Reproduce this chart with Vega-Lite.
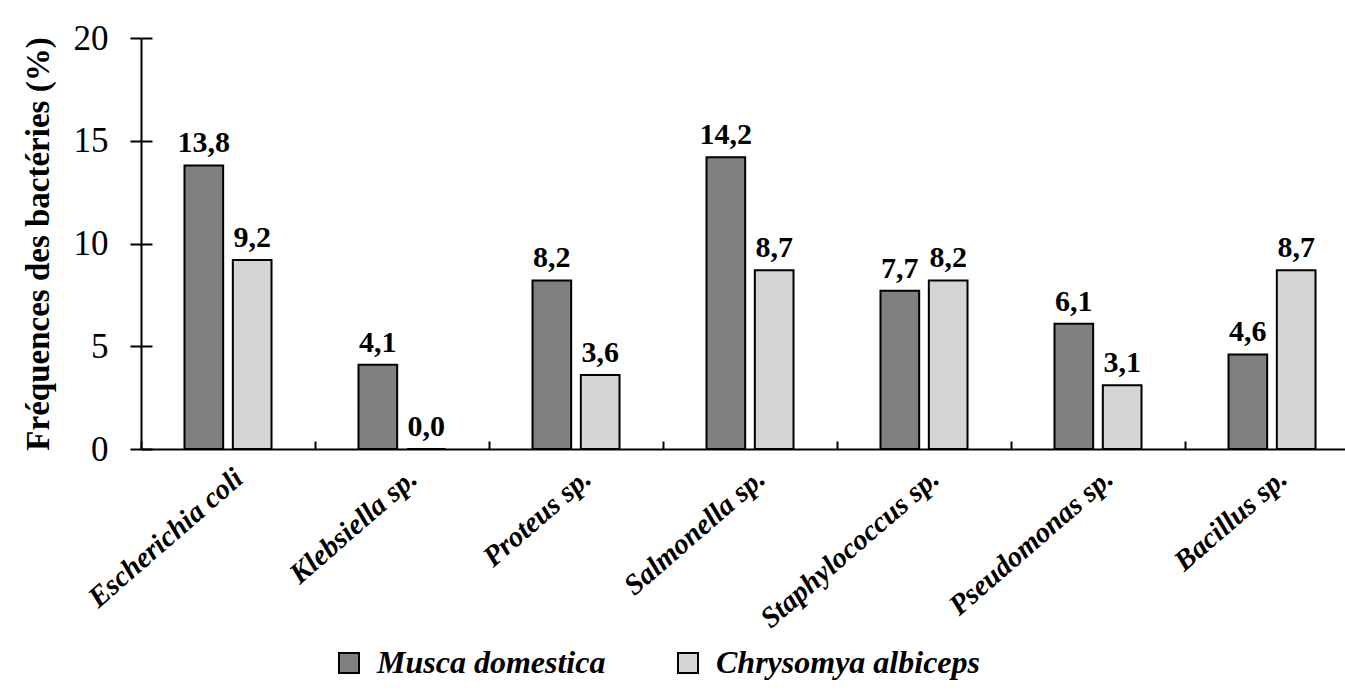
{
  "$schema": "https://vega.github.io/schema/vega-lite/v6.json",
  "width": 1218,
  "height": 411,
  "autosize": {"type": "none"},
  "padding": {"left": 141, "top": 38, "right": 0, "bottom": 241},
  "background": "white",
  "config": {
    "locale": {"number": {"decimal": ",", "thousands": " ", "grouping": [3], "currency": ["", " €"]}},
    "view": {"stroke": null},
    "font": "Liberation Serif"
  },
  "data": {
    "values": [
      {"bacterie": "Escherichia coli", "espece": "Musca domestica", "frequence": 13.8},
      {"bacterie": "Escherichia coli", "espece": "Chrysomya albiceps", "frequence": 9.2},
      {"bacterie": "Klebsiella sp.", "espece": "Musca domestica", "frequence": 4.1},
      {"bacterie": "Klebsiella sp.", "espece": "Chrysomya albiceps", "frequence": 0.0},
      {"bacterie": "Proteus sp.", "espece": "Musca domestica", "frequence": 8.2},
      {"bacterie": "Proteus sp.", "espece": "Chrysomya albiceps", "frequence": 3.6},
      {"bacterie": "Salmonella sp.", "espece": "Musca domestica", "frequence": 14.2},
      {"bacterie": "Salmonella sp.", "espece": "Chrysomya albiceps", "frequence": 8.7},
      {"bacterie": "Staphylococcus sp.", "espece": "Musca domestica", "frequence": 7.7},
      {"bacterie": "Staphylococcus sp.", "espece": "Chrysomya albiceps", "frequence": 8.2},
      {"bacterie": "Pseudomonas sp.", "espece": "Musca domestica", "frequence": 6.1},
      {"bacterie": "Pseudomonas sp.", "espece": "Chrysomya albiceps", "frequence": 3.1},
      {"bacterie": "Bacillus sp.", "espece": "Musca domestica", "frequence": 4.6},
      {"bacterie": "Bacillus sp.", "espece": "Chrysomya albiceps", "frequence": 8.7}
    ]
  },
  "layer": [
    {
      "mark": {"type": "bar", "stroke": "black", "strokeWidth": 2},
      "encoding": {
        "x": {
          "field": "bacterie", "type": "nominal", "sort": null,
          "scale": {"paddingInner": 0, "paddingOuter": 0},
          "axis": {
            "orient": "bottom", "title": null, "ticks": false,
            "domainColor": "black", "domainWidth": 2,
            "labelAngle": -41, "labelAlign": "right", "labelBaseline": "middle",
            "labelFont": "Liberation Serif", "labelFontSize": 29, "labelFontStyle": "italic", "labelFontWeight": "bold",
            "labelColor": "black", "labelPadding": 25, "labelOffset": 11, "labelLimit": 400
          }
        },
        "xOffset": {
          "field": "espece", "type": "nominal", "sort": ["Musca domestica", "Chrysomya albiceps"],
          "scale": {"paddingInner": 0.2, "paddingOuter": 0.9}
        },
        "y": {
          "field": "frequence", "type": "quantitative",
          "scale": {"domain": [0, 20]},
          "axis": {
            "orient": "left", "values": [0, 5, 10, 15, 20], "grid": false,
            "tickSize": 11, "tickWidth": 2, "tickColor": "black",
            "domainColor": "black", "domainWidth": 2,
            "labelFont": "Liberation Serif", "labelFontSize": 35, "labelColor": "black", "labelPadding": 22,
            "title": "Fréquences des bactéries (%)",
            "titleFont": "Liberation Serif", "titleFontSize": 33, "titleFontWeight": "bold", "titleColor": "black",
            "titlePadding": 18
          }
        },
        "color": {
          "field": "espece", "type": "nominal",
          "sort": ["Musca domestica", "Chrysomya albiceps"],
          "scale": {"domain": ["Musca domestica", "Chrysomya albiceps"], "range": ["#808080", "#d4d4d4"]},
          "legend": {
            "orient": "none", "legendX": 192, "legendY": 609, "direction": "horizontal",
            "title": null, "symbolType": "square", "symbolSize": 400,
            "symbolStrokeColor": "black", "symbolStrokeWidth": 2,
            "labelFont": "Liberation Serif", "labelFontSize": 32, "labelFontStyle": "italic", "labelFontWeight": "bold",
            "labelColor": "black", "labelOffset": 12, "columnPadding": 66, "padding": 0, "labelLimit": 500
          }
        }
      }
    },
    {
      "mark": {"type": "text", "font": "Liberation Serif", "fontSize": 30, "fontWeight": "bold", "color": "black", "baseline": "alphabetic", "dy": -13},
      "encoding": {
        "x": {
          "field": "bacterie", "type": "nominal", "sort": null,
          "axis": {
            "orient": "bottom", "title": null, "labels": false, "domain": false,
            "bandPosition": 0, "offset": -8, "tickSize": 8, "tickWidth": 2, "tickColor": "black"
          }
        },
        "xOffset": {"field": "espece", "type": "nominal", "sort": ["Musca domestica", "Chrysomya albiceps"]},
        "y": {
          "field": "frequence", "type": "quantitative",
          "axis": {
            "orient": "left", "values": [0, 5, 10, 15, 20], "grid": false, "labels": false, "domain": false, "title": null,
            "offset": -11, "tickSize": 11, "tickWidth": 2, "tickColor": "black"
          }
        },
        "text": {"field": "frequence", "type": "quantitative", "format": ".1f"}
      }
    }
  ],
  "resolve": {"axis": {"x": "independent", "y": "independent"}}
}
